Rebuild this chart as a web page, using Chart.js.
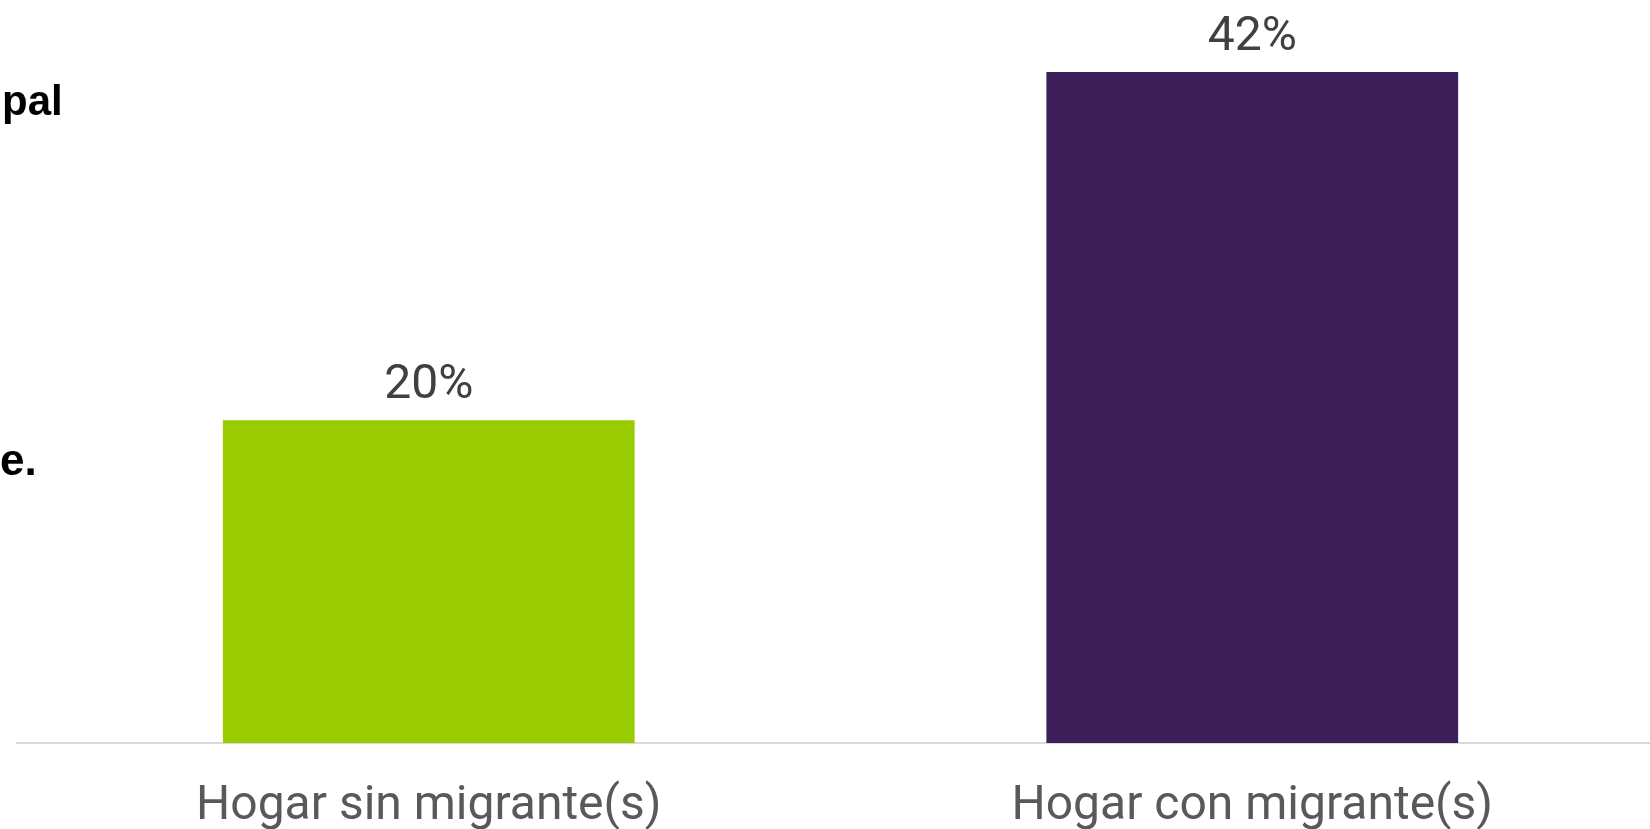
<!DOCTYPE html>
<html>
<head>
<meta charset="utf-8">
<script src="https://cdn.jsdelivr.net/npm/chart.js@4/dist/chart.umd.min.js"></script>
<style>
  html, body { margin: 0; padding: 0; background: #fff; overflow: hidden; }
  #wrap { position: relative; width: 1664px; height: 829px; }
  .frag { position: absolute; left: 2px; font: bold 42px "Liberation Sans", Arial, sans-serif; color: #000; line-height: 42px; white-space: nowrap; }
</style>
</head>
<body>
<div id="wrap">
  <div class="frag" style="top:80px">pal</div>
  <div class="frag" style="top:438px;left:0;font-size:44px;line-height:44px">e.</div>
  <canvas id="chart"></canvas>
</div>
<script>
const categorias = ["Hogar sin migrante(s)", "Hogar con migrante(s)"];
const valores = [20.2, 42];
const colores = ["#99cc00", "#3c1f59"];

const etiquetas = {
  id: "etiquetas",
  afterDatasetsDraw(chart) {
    const ctx = chart.ctx;
    const meta = chart.getDatasetMeta(0);
    ctx.save();
    ctx.font = '48px Roboto';
    ctx.fillStyle = "#404040";
    ctx.textAlign = "center";
    ctx.textBaseline = "alphabetic";
    meta.data.forEach((bar, i) => {
      ctx.fillText(Math.round(valores[i]) + "%", bar.x, bar.y - 22);
    });
    ctx.restore();
  },
};

new Chart(document.getElementById("chart"), {
  type: "bar",
  data: {
    labels: categorias,
    datasets: [{
      data: valores,
      backgroundColor: colores,
      barPercentage: 0.5,
      categoryPercentage: 1,
    }],
  },
  options: {
    responsive: true,
    maintainAspectRatio: false,
    animation: false,
    layout: { padding: { top: 72, left: 17, right: 0, bottom: 0 } },
    plugins: { legend: { display: false }, tooltip: { enabled: false } },
    scales: {
      x: {
        grid: { display: false, drawTicks: false, tickLength: 0 },
        border: { display: true, color: "#d9d9d9", width: 2 },
        ticks: { color: "#595959", font: { family: "Roboto", size: 48 }, padding: 35, maxRotation: 0 },
        afterFit: (s) => { s.height = 86; },
      },
      y: { display: false, min: 0, max: 42 },
    },
  },
  plugins: [etiquetas],
});
</script>
</body>
</html>
